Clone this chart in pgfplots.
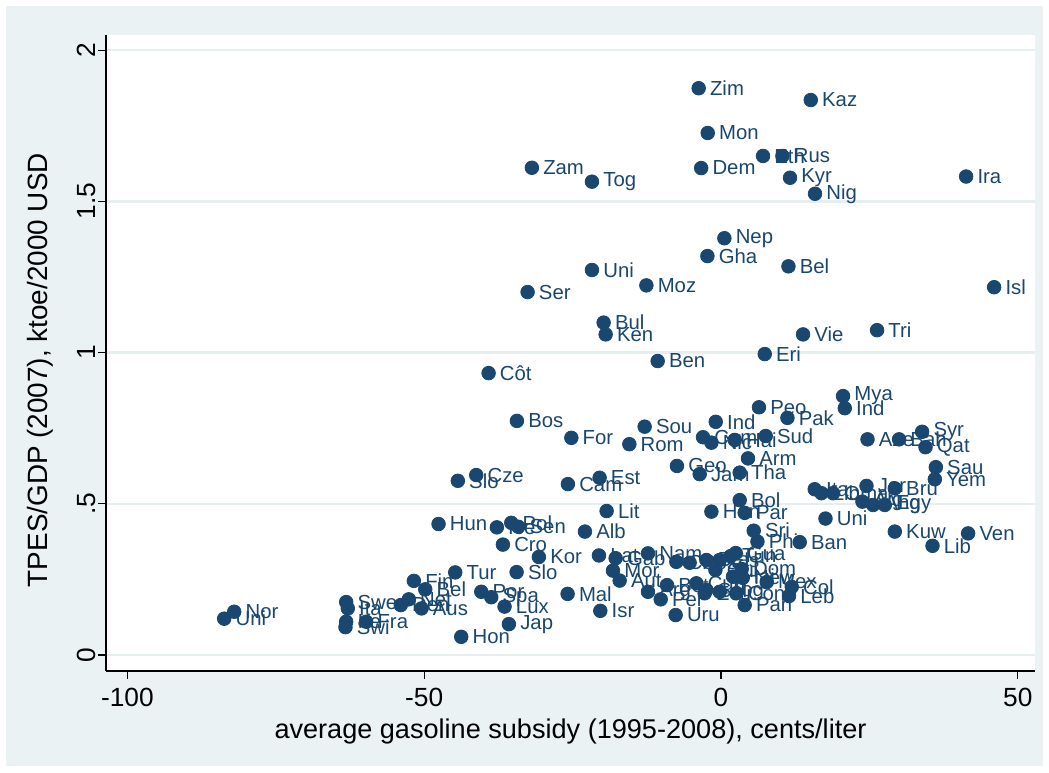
\documentclass[border=0pt]{standalone}
\usepackage{fontspec}
\setmainfont{Liberation Sans}
\usepackage{pgfplots}
\usepackage{pgfplotstable}
\pgfplotsset{compat=1.18}
\definecolor{stnavy}{RGB}{26,71,111}
\definecolor{stbg}{RGB}{234,242,243}
\definecolor{stgrid}{RGB}{230,238,240}

\pgfplotstableread{
x y label
-3.76 1.874 Zim
15.12 1.835 Kaz
-2.24 1.726 Mon
7.08 1.650 Eth
10.35 1.650 Rus
-3.34 1.610 Dem
-31.86 1.611 Zam
-21.74 1.565 Tog
11.63 1.578 Kyr
15.84 1.525 Nig
41.29 1.582 Ira
0.57 1.378 Nep
-2.29 1.319 Gha
11.36 1.285 Bel
-21.74 1.273 Uni
-12.57 1.222 Moz
-32.58 1.200 Ser
46.01 1.216 Isl
-19.77 1.099 Bul
-19.43 1.060 Ken
13.82 1.060 Vie
26.29 1.074 Tri
7.37 0.995 Eri
-10.67 0.972 Ben
-39.15 0.932 Côt
-34.38 0.774 Bos
-25.21 0.718 For
-12.86 0.755 Sou
-15.44 0.697 Rom
-0.89 0.771 Ind
-7.42 0.625 Geo
-3.59 0.598 Jam
-41.23 0.595 Cze
-44.33 0.576 Slo
-25.79 0.565 Cam
-20.45 0.586 Est
-19.27 0.476 Lit
-1.62 0.474 Hon
-47.58 0.433 Hun
-37.76 0.422 Ice
-35.33 0.437 Pol
-34.15 0.424 Sen
-22.92 0.408 Alb
-36.74 0.365 Cro
-82.00 0.143 Nor
-83.69 0.120 Uni
-63.14 0.175 Swe
-62.87 0.154 Ita
-63.14 0.110 Ire
-59.77 0.110 Fra
-63.26 0.092 Swi
-51.74 0.245 Fin
-49.82 0.217 Bel
-52.59 0.184 Net
-53.94 0.165 Den
-50.45 0.154 Aus
-44.77 0.273 Tur
-40.38 0.209 Por
-38.70 0.191 Spa
-36.46 0.160 Lux
-35.73 0.102 Jap
-43.76 0.060 Hon
-34.43 0.274 Slo
-30.68 0.324 Kor
-20.56 0.329 Lat
-25.84 0.202 Mal
-20.33 0.146 Isr
-17.75 0.320 Gab
-18.20 0.279 Mor
-17.07 0.246 Aut
-12.30 0.336 Nam
-12.30 0.209 Arg
-9.10 0.231 Bot
-10.16 0.184 Per
-7.64 0.132 Uru
-7.52 0.308 Chi
-5.28 0.305 Cos
-4.15 0.237 Cub
-2.75 0.204 Ecu
-2.46 0.314 Bra
-0.22 0.314 Els
2.02 0.259 Hai
-0.94 0.281 Gui
-2.46 0.215 Sal
-0.22 0.209 Tog
2.60 0.204 Con
1.63 0.327 Tun
2.48 0.337 Gua
3.49 0.284 Dom
3.66 0.255 New
7.70 0.241 Mex
11.92 0.225 Col
11.46 0.195 Leb
3.99 0.165 Pan
6.14 0.375 Phi
5.51 0.411 Sri
13.26 0.373 Ban
20.56 0.856 Mya
20.85 0.816 Ind
6.40 0.819 Peo
11.19 0.784 Pak
-3.03 0.720 Com
-1.62 0.702 Nic
2.31 0.711 Hai
7.53 0.724 Sud
4.55 0.650 Arm
3.15 0.603 Tha
24.68 0.713 Aze
30.00 0.713 Bah
33.88 0.738 Syr
34.45 0.687 Qat
36.19 0.621 Sau
36.02 0.581 Yem
29.28 0.408 Kuw
41.63 0.402 Ven
35.63 0.361 Lib
17.60 0.451 Uni
3.15 0.512 Bol
3.99 0.470 Par
15.79 0.548 Ita
16.92 0.535 Lib
18.88 0.535 Oma
24.51 0.559 Jor
23.83 0.507 Alg
25.62 0.496 Ang
27.59 0.496 Egy
29.28 0.551 Bru
}\data

\begin{document}
\begin{tikzpicture}[x=1bp,y=1bp]
\fill[white] (0,0) rectangle (524.5,386);
\fill[stbg] (3,3) rectangle (521.5,383);
\begin{axis}[
  at={(53bp,50.5bp)}, anchor=south west,
  scale only axis, width=464.5bp, height=318bp,
  xmin=-103.6, xmax=52.9, ymin=-0.053, ymax=2.05,
  axis background/.style={fill=white},
  axis x line=bottom, axis y line=left,
  axis line style={-, black, line width=0.6pt},
  tick align=outside, major tick length=4bp,
  tick style={black, line width=0.6pt},
  xtick={-100,-50,0,50}, xticklabels={-100,-50,0,50},
  ytick={0,0.5,1,1.5,2}, yticklabels={0,.5,1,1.5,2},
  ymajorgrids, major grid style={stgrid, line width=1.2pt},
  ticklabel style={font=\fontsize{13.2}{15}\selectfont},
  xticklabel style={yshift=-1bp},
  yticklabel style={rotate=90, anchor=south, inner sep=1bp},
  xlabel={average gasoline subsidy (1995-2008), cents/liter},
  ylabel={TPES/GDP (2007), ktoe/2000 USD},
  every axis x label/.style={at={(axis description cs:0.5,0)}, anchor=center, yshift=-30bp, font=\fontsize{13.6}{16}\selectfont},
  every axis y label/.style={at={(axis description cs:0,0.473)}, xshift=-33bp, rotate=90, anchor=center, font=\fontsize{14}{16}\selectfont},
  clip=false,
]
\addplot[only marks, mark=*, mark size=3.4bp, color=stnavy, mark options={fill=stnavy, draw=stnavy},
  nodes near coords, point meta=explicit symbolic,
  every node near coord/.append style={anchor=west, xshift=4.5bp, inner sep=1pt, text=stnavy, font=\fontsize{10.2}{12}\selectfont}]
  table[x=x, y=y, meta=label] {\data};
\end{axis}
\end{tikzpicture}
\end{document}
